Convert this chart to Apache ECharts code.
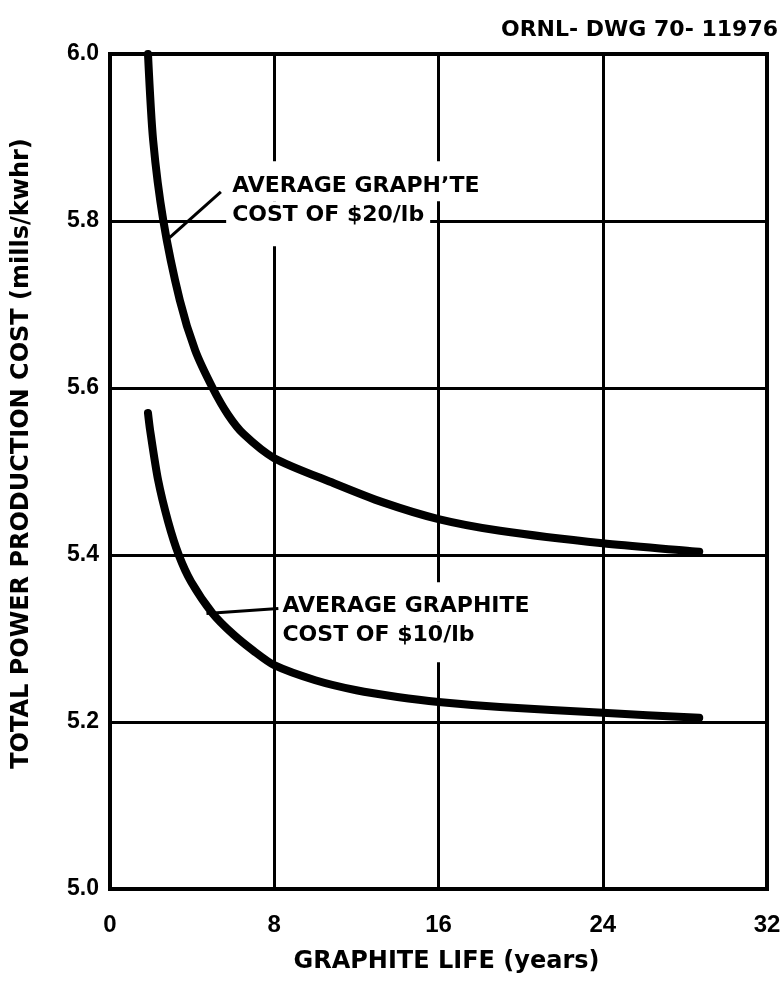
<!DOCTYPE html>
<html>
<head>
<meta charset="utf-8">
<script src="https://cdn.jsdelivr.net/npm/echarts@6/dist/echarts.min.js"></script>
<style>
  html, body { margin: 0; padding: 0; background: #fff; }
  #chart { width: 784px; height: 984px; }
</style>
</head>
<body>
<div id="chart"></div>
<script>
// Graphite life (years) vs. total power production cost (mills/kwhr)
const lifeAt20 = [1.85, 2.1, 2.6, 3.4, 4.15, 5.0, 5.75, 6.5, 8, 10.9, 13.3, 16, 19, 24, 28.7];
const costAt20 = [6.0, 5.897, 5.80, 5.705, 5.645, 5.60, 5.568, 5.545, 5.516, 5.486, 5.463, 5.443, 5.429, 5.414, 5.404];

const lifeAt10 = [1.85, 1.95, 2.34, 2.83, 3.35, 3.95, 5, 6, 7, 8, 10, 12, 14, 16, 19, 24, 28.7];
const costAt10 = [5.570, 5.55, 5.49, 5.44, 5.40, 5.368, 5.33, 5.305, 5.285, 5.268, 5.25, 5.238, 5.23, 5.224, 5.218, 5.211, 5.205];

const xTicks = [0, 8, 16, 24, 32];
const yTicks = [5.0, 5.2, 5.4, 5.6, 5.8, 6.0];

const label20 = ['AVERAGE GRAPH\u02BCTE', 'COST OF $20/lb'];
const label10 = ['AVERAGE GRAPHITE', 'COST OF $10/lb'];
const drawingNo = 'ORNL- DWG 70- 11976';

const FONT = '"DejaVu Sans", "Liberation Sans", sans-serif';
const TICK_FONT = '"Liberation Sans", "DejaVu Sans", sans-serif';

function pairs(xs, ys) { return xs.map((x, i) => [x, ys[i]]); }

const chart = echarts.init(document.getElementById('chart'), null, { renderer: 'canvas' });

const curveStyle = { color: '#000', width: 8, cap: 'round', join: 'round' };
const leaderStyle = { color: '#000', width: 3, type: 'solid' };

chart.setOption({
  animation: false,
  backgroundColor: '#fff',
  grid: {
    left: 110, right: 17, top: 54, bottom: 95,
    show: true, borderColor: '#000', borderWidth: 4, backgroundColor: 'transparent'
  },
  xAxis: {
    type: 'value', min: xTicks[0], max: xTicks[xTicks.length - 1], interval: 8,
    name: 'GRAPHITE LIFE (years)', nameLocation: 'middle', nameGap: 61,
    nameTextStyle: { fontFamily: FONT, fontWeight: 'bold', fontSize: 24, color: '#000', padding: [0, 0, 0, 16] },
    axisLine: { show: true, lineStyle: { color: '#000', width: 4 } },
    axisTick: { show: false },
    axisLabel: { margin: 24, fontFamily: TICK_FONT, fontWeight: 'bold', fontSize: 24, color: '#000' },
    splitLine: { show: true, lineStyle: { color: '#000', width: 3 } }
  },
  yAxis: {
    type: 'value', min: yTicks[0], max: yTicks[yTicks.length - 1], interval: 0.2,
    name: 'TOTAL POWER PRODUCTION COST (mills/kwhr)', nameLocation: 'middle', nameGap: 76,
    nameTextStyle: { fontFamily: FONT, fontWeight: 'bold', fontSize: 24, color: '#000', padding: [0, 0, 0, 36] },
    axisLine: { show: true, lineStyle: { color: '#000', width: 4 } },
    axisTick: { show: false },
    axisLabel: {
      margin: 11, fontFamily: TICK_FONT, fontWeight: 'bold', fontSize: 23, color: '#000',
      formatter: v => v.toFixed(1)
    },
    splitLine: { show: true, lineStyle: { color: '#000', width: 3 } }
  },
  series: [
    {
      name: '$20/lb', type: 'line', data: pairs(lifeAt20, costAt20),
      smooth: 0.25, showSymbol: false, lineStyle: curveStyle, clip: true,
      markLine: {
        silent: true, animation: false,
        symbol: ['none', 'arrow'], symbolSize: [0, 14],
        lineStyle: leaderStyle, label: { show: false },
        data: [[{ coord: [5.4, 5.835] }, { coord: [2.9, 5.78] }]]
      }
    },
    {
      name: '$10/lb', type: 'line', data: pairs(lifeAt10, costAt10),
      smooth: 0.25, showSymbol: false, lineStyle: curveStyle, clip: true,
      markLine: {
        silent: true, animation: false,
        symbol: ['none', 'arrow'], symbolSize: [0, 14],
        lineStyle: leaderStyle, label: { show: false },
        data: [[{ coord: [8.2, 5.336] }, { coord: [4.7, 5.33] }]]
      }
    }
  ]
});

// Two-line curve annotations anchored in data coordinates; each line
// sits on its own white box, which breaks the grid lines behind it.
const LINE_H = 29;
function annotation(lines, life, cost, padTop, padBottom) {
  const p = chart.convertToPixel({ gridIndex: 0 }, [life, cost]);
  return lines.map((line, i) => {
    const pad = [i === 0 ? padTop : 2, 6, i === lines.length - 1 ? padBottom : 2, 6];
    return {
      type: 'text', left: p[0] - pad[3], top: p[1] + i * LINE_H - pad[0],
      style: {
        text: line, fill: '#000', font: 'bold 22px ' + FONT,
        lineHeight: LINE_H - 4, backgroundColor: '#fff', padding: pad
      }
    };
  });
}

chart.setOption({
  graphic: [
    ...annotation(label20, 5.95, 5.856, 13, 18),
    ...annotation(label10, 8.4, 5.353, 12, 14),
    {
      type: 'text', right: 6, top: 19,
      style: { text: drawingNo, fill: '#000', font: 'bold 22px ' + FONT }
    }
  ]
});
</script>
</body>
</html>
